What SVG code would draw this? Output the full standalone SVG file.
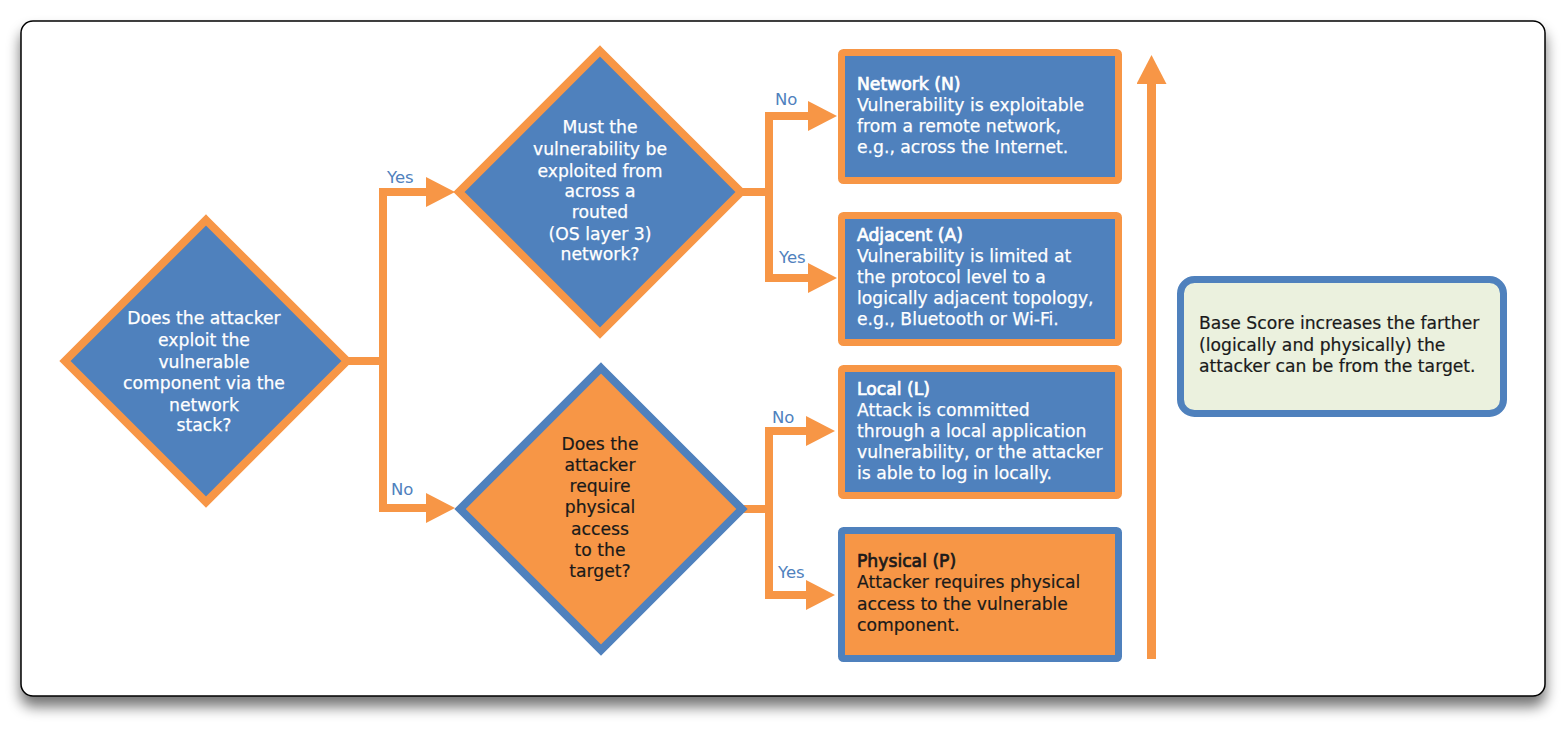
<svg xmlns="http://www.w3.org/2000/svg" width="1565" height="732" viewBox="0 0 1565 732">
<defs>
<filter id="sh" x="-5%" y="-5%" width="110%" height="120%">
<feGaussianBlur in="SourceAlpha" stdDeviation="7"/>
<feOffset dx="0" dy="10" result="b"/>
<feComponentTransfer><feFuncA type="linear" slope="0.55"/></feComponentTransfer>
<feMerge><feMergeNode/><feMergeNode in="SourceGraphic"/></feMerge>
</filter>
<marker id="ah" markerUnits="userSpaceOnUse" markerWidth="29" markerHeight="30" viewBox="0 0 29 30" refX="0" refY="15" orient="auto">
<path d="M0,0 L29,15 L0,30 Z" fill="#F79646"/>
</marker>
</defs>
<style>
text{font-family:"DejaVu Sans","Noto Sans",sans-serif;font-size:17.2px}
.w{fill:#ffffff;stroke:#ffffff;stroke-width:0.25}
.d{fill:#1a1a1a;stroke:#1a1a1a;stroke-width:0.2}
.c{text-anchor:middle}
.tw{stroke:#ffffff;stroke-width:0.7}
.td{stroke:#1a1a1a;stroke-width:0.7}
.lbl{fill:#4F81BD;font-size:16.5px}
.dia-b{fill:#4F81BD;stroke:#F79646;stroke-width:8;stroke-linejoin:miter}
.dia-o{fill:#F79646;stroke:#4F81BD;stroke-width:8;stroke-linejoin:miter}
.box-b{fill:#4F81BD;stroke:#F79646;stroke-width:7}
.box-o{fill:#F79646;stroke:#4F81BD;stroke-width:7}
.con{fill:none;stroke:#F79646;stroke-width:8;stroke-linejoin:miter}
</style>
<rect x="21" y="21" width="1524" height="675" rx="12" fill="#ffffff" stroke="#000000" stroke-width="1.5" filter="url(#sh)"/>

<g id="connectors">
<path class="con" d="M346,361 H383 V192 H426" marker-end="url(#ah)"/>
<path class="con" d="M383,361 V508 H426" marker-end="url(#ah)"/>
<path class="con" d="M740,192 H769 V116 H808" marker-end="url(#ah)"/>
<path class="con" d="M769,192 V278 H808" marker-end="url(#ah)"/>
<path class="con" d="M742,509 H769 V431 H806" marker-end="url(#ah)"/>
<path class="con" d="M769,509 V595 H806" marker-end="url(#ah)"/>
<path class="con" style="stroke-width:9" d="M1151.5,659 V84" marker-end="url(#ah)"/>
<text class="lbl" x="387" y="183">Yes</text>
<text class="lbl" x="391" y="495">No</text>
<text class="lbl" x="775" y="105">No</text>
<text class="lbl" x="779" y="263">Yes</text>
<text class="lbl" x="772" y="423">No</text>
<text class="lbl" x="778" y="578">Yes</text>
</g>

<g id="q1">
<polygon class="dia-b" points="206,220 347,361 206,502 65,361"/>
<text class="w c"><tspan x="204" y="324">Does the attacker</tspan><tspan x="204" y="346">exploit the</tspan><tspan x="204" y="368">vulnerable</tspan><tspan x="204" y="389">component via the</tspan><tspan x="204" y="411">network</tspan><tspan x="204" y="431">stack?</tspan></text>
</g>

<g id="q2">
<polygon class="dia-b" points="600,51 741,192 600,333 459,192"/>
<text class="w c"><tspan x="600" y="133">Must the</tspan><tspan x="600" y="155">vulnerability be</tspan><tspan x="600" y="177">exploited from</tspan><tspan x="600" y="197">across a</tspan><tspan x="600" y="218">routed</tspan><tspan x="600" y="240">(OS layer 3)</tspan><tspan x="600" y="260">network?</tspan></text>
</g>

<g id="q3">
<polygon class="dia-o" points="601,368 742,509 601,650 460,509"/>
<text class="d c"><tspan x="600" y="450">Does the</tspan><tspan x="600" y="471">attacker</tspan><tspan x="600" y="492">require</tspan><tspan x="600" y="513">physical</tspan><tspan x="600" y="535">access</tspan><tspan x="600" y="556">to the</tspan><tspan x="600" y="577">target?</tspan></text>
</g>

<g id="network">
<rect class="box-b" x="841.5" y="52.5" width="277" height="128" rx="2"/>
<text class="w"><tspan class="tw" x="857" y="90">Network (N)</tspan><tspan x="857" y="111">Vulnerability is exploitable</tspan><tspan x="857" y="132">from a remote network,</tspan><tspan x="857" y="153">e.g., across the Internet.</tspan></text>
</g>

<g id="adjacent">
<rect class="box-b" x="841.5" y="215.5" width="277" height="127" rx="2"/>
<text class="w"><tspan class="tw" x="857" y="241">Adjacent (A)</tspan><tspan x="857" y="262">Vulnerability is limited at</tspan><tspan x="857" y="283">the protocol level to a</tspan><tspan x="857" y="304">logically adjacent topology,</tspan><tspan x="857" y="325">e.g., Bluetooth or Wi-Fi.</tspan></text>
</g>

<g id="local">
<rect class="box-b" x="841.5" y="368.5" width="277" height="127" rx="2"/>
<text class="w"><tspan class="tw" x="857" y="395">Local (L)</tspan><tspan x="857" y="416">Attack is committed</tspan><tspan x="857" y="437">through a local application</tspan><tspan x="857" y="458">vulnerability, or the attacker</tspan><tspan x="857" y="479">is able to log in locally.</tspan></text>
</g>

<g id="physical">
<rect class="box-o" x="841.5" y="530.5" width="277" height="128" rx="2"/>
<text class="d"><tspan class="td" x="857" y="567">Physical (P)</tspan><tspan x="857" y="588">Attacker requires physical</tspan><tspan x="857" y="610">access to the vulnerable</tspan><tspan x="857" y="631">component.</tspan></text>
</g>

<g id="note">
<rect x="1180.5" y="279.5" width="323" height="134" rx="14" fill="#EBF1DE" stroke="#4F81BD" stroke-width="7"/>
<text class="d"><tspan x="1199" y="329">Base Score increases the farther</tspan><tspan x="1199" y="351">(logically and physically) the</tspan><tspan x="1199" y="372">attacker can be from the target.</tspan></text>
</g>
</svg>
